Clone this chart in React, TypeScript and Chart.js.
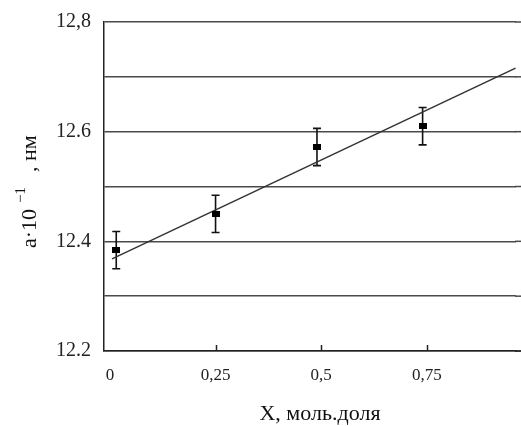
import React, { useEffect, useRef } from "react";
import { Chart, registerables } from "chart.js";

Chart.register(...registerables);

const xValues = [0.015, 0.25, 0.49, 0.74];
const yValues = [12.384, 12.45, 12.572, 12.61];
const yErrors = [0.034, 0.034, 0.034, 0.034];
const trendX = [0.005, 0.96];
const trendY = [12.368, 12.716];
const xTicks = [0, 0.25, 0.5, 0.75];
const xTickLabels = ["0", "0,25", "0,5", "0,75"];
const yLabelMap: Record<string, string> = { "12.8": "12,8", "12.6": "12.6", "12.4": "12.4", "12.2": "12.2" };
const xTitle = "X, моль.доля";
const yTitleMain = "a·10";
const yTitleSup = "−1";
const yTitleTail = ", нм";

const FONT = "'Liberation Serif', 'Times New Roman', serif";
const W = 521;
const H = 426;
const TOP = 22;
const GRID = "#4a4a4a";

export default function App() {
  const ref = useRef<HTMLCanvasElement>(null);
  useEffect(() => {
    const canvas = ref.current!;
    const marker = document.createElement("canvas");
    marker.width = 8;
    marker.height = 6;
    const mctx = marker.getContext("2d")!;
    mctx.fillStyle = "#000";
    mctx.fillRect(0, 0, 8, 6);

    const decor = {
      id: "decor",
      beforeDatasetsDraw(chart: any) {
        const ctx = chart.ctx;
        const xs = chart.scales.x;
        const ys = chart.scales.y;
        ctx.save();
        // continue the horizontal grid lines to the page edge
        ctx.strokeStyle = GRID;
        ctx.lineWidth = 1.5;
        ys.ticks.forEach((t: any) => {
          const py = ys.getPixelForValue(t.value);
          ctx.beginPath();
          ctx.moveTo(chart.chartArea.right - 1, py);
          ctx.lineTo(W, py);
          ctx.stroke();
        });
        ctx.strokeStyle = "#222";
        ctx.beginPath();
        ctx.moveTo(chart.chartArea.right - 1, chart.chartArea.bottom);
        ctx.lineTo(W, chart.chartArea.bottom);
        ctx.stroke();

        ctx.strokeStyle = "#111";
        ctx.lineWidth = 1.6;
        xValues.forEach((xv, i) => {
          const px = xs.getPixelForValue(xv);
          const top = ys.getPixelForValue(yValues[i] + yErrors[i]);
          const bot = ys.getPixelForValue(yValues[i] - yErrors[i]);
          ctx.beginPath();
          ctx.moveTo(px, top);
          ctx.lineTo(px, bot);
          ctx.moveTo(px - 4, top);
          ctx.lineTo(px + 4, top);
          ctx.moveTo(px - 4, bot);
          ctx.lineTo(px + 4, bot);
          ctx.stroke();
        });
        const base = chart.chartArea.bottom;
        ctx.strokeStyle = "#222";
        ctx.lineWidth = 1.5;
        [0.25, 0.5, 0.75].forEach((v) => {
          const px = Math.round(xs.getPixelForValue(v)) + 0.5;
          ctx.beginPath();
          ctx.moveTo(px, base);
          ctx.lineTo(px, base - 6);
          ctx.stroke();
        });
        ctx.restore();
      },
      afterDraw(chart: any) {
        const ctx = chart.ctx;
        ctx.save();
        ctx.fillStyle = "#111";
        ctx.textAlign = "center";
        ctx.textBaseline = "middle";
        ctx.font = `22px ${FONT}`;
        ctx.fillText(xTitle, 320, 414);
        ctx.translate(36, 248);
        ctx.rotate(-Math.PI / 2);
        ctx.textAlign = "left";
        ctx.textBaseline = "alphabetic";
        ctx.font = `22px ${FONT}`;
        ctx.fillText(yTitleMain, 0, 0);
        ctx.font = `15px ${FONT}`;
        ctx.fillText(yTitleSup, 45, -11);
        ctx.font = `22px ${FONT}`;
        ctx.fillText(yTitleTail, 76, 0);
        ctx.restore();
      },
    };

    const chart = new Chart(canvas, {
      type: "scatter",
      data: {
        datasets: [
          {
            type: "scatter",
            data: xValues.map((x, i) => ({ x, y: yValues[i] })),
            pointStyle: marker as any,
            pointRadius: 4,
            backgroundColor: "#000",
            borderColor: "#000",
            order: 1,
          },
          {
            type: "line",
            data: trendX.map((x, i) => ({ x, y: trendY[i] })),
            borderColor: "#333",
            borderWidth: 1.5,
            pointRadius: 0,
            fill: false,
            clip: false,
            order: 2,
          } as any,
        ],
      },
      options: {
        responsive: false,
        maintainAspectRatio: false,
        animation: false,
        layout: { padding: { top: TOP, right: 0, left: 0, bottom: 0 } },
        plugins: { legend: { display: false }, tooltip: { enabled: false } },
        scales: {
          x: {
            type: "linear",
            min: -0.014,
            max: 0.961,
            afterBuildTicks: (s: any) => {
              s.ticks = xTicks.map((v) => ({ value: v }));
            },
            afterFit: (s: any) => {
              s.height = 75;
              s.paddingLeft = 0;
              s.paddingRight = 0;
            },
            grid: { display: false, drawTicks: false },
            border: { display: true, color: "#222", width: 1.5 },
            ticks: {
              padding: 14,
              color: "#222",
              font: { family: FONT, size: 17 },
              maxRotation: 0,
              autoSkip: false,
              callback: (v: any) => {
                const i = xTicks.indexOf(Number(v));
                return i >= 0 ? xTickLabels[i] : "";
              },
            },
          },
          y: {
            type: "linear",
            min: 12.2,
            max: 12.8,
            afterFit: (s: any) => {
              s.width = 104;
              s.paddingTop = 0;
              s.paddingBottom = 0;
            },
            grid: { color: GRID, lineWidth: 1.5, drawTicks: false },
            border: { display: true, color: "#222", width: 1.5 },
            ticks: {
              stepSize: 0.1,
              padding: 13,
              color: "#222",
              font: { family: FONT, size: 20 },
              callback: (v: any) => yLabelMap[Number(v).toFixed(1)] ?? "",
            },
          },
        },
      },
      plugins: [decor],
    });

    const a = chart.chartArea;
    const dt = a.top - TOP;
    if (Math.abs(dt) > 0.5) {
      const p: any = (chart.options.layout as any).padding;
      (chart.options.layout as any).padding = { top: p.top - dt, right: 0, left: 0, bottom: 0 };
      chart.update();
    }
    return () => chart.destroy();
  }, []);

  return (
    <div style={{ position: "absolute", left: 0, top: 0, width: W, height: H, overflow: "hidden", background: "#fff" }}>
      <canvas ref={ref} width={W} height={H} style={{ display: "block", width: W, height: H }} />
    </div>
  );
}
